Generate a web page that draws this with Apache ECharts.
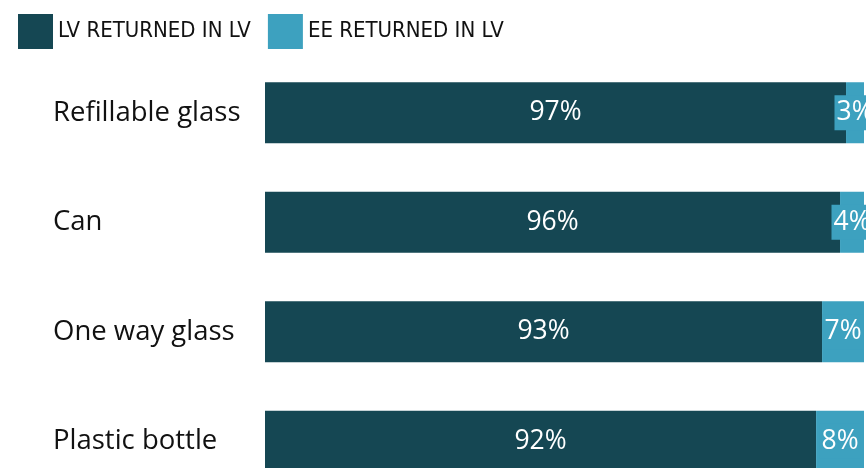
<!DOCTYPE html>
<html><head><meta charset="utf-8">
<script src="https://cdn.jsdelivr.net/npm/echarts@6/dist/echarts.min.js"></script>
<style>html,body{margin:0;padding:0;background:#fff}#c{width:866px;height:468px}</style>
</head><body><div id="c"></div>
<script>
const categories = ["Refillable glass", "Can", "One way glass", "Plastic bottle"];
const lvReturned = [97, 96, 93, 92];
const eeReturned = [3, 4, 7, 8];
const seriesNames = ["LV RETURNED IN LV", "EE RETURNED IN LV"];
const FONT = "'Open Sans', Lato, sans-serif";
const LEGEND_FONT = "'Liberation Sans Narrow', 'DejaVu Sans Condensed', Lato, sans-serif";
const chart = echarts.init(document.getElementById('c'));
chart.setOption({
  animation: false,
  textStyle: {fontFamily: FONT},
  legend: {
    left: 13, top: 9, itemWidth: 35, itemHeight: 35, itemGap: 17,
    icon: 'rect',
    textStyle: {fontSize: 22, color: '#111', fontFamily: LEGEND_FONT, padding: [2, 0, 0, 0]},
    data: seriesNames
  },
  grid: {left: 265, right: 2, top: 58, height: 438, containLabel: false, outerBoundsMode: 'none'},
  xAxis: {type: 'value', min: 0, max: 100, show: false},
  yAxis: {
    type: 'category', data: categories, inverse: true,
    axisLine: {show: false}, axisTick: {show: false},
    axisLabel: {align: 'left', margin: 212, fontSize: 27.5, color: '#111', fontFamily: FONT}
  },
  series: [
    {name: seriesNames[0], type: 'bar', stack: 'a', data: lvReturned, barWidth: 61,
     itemStyle: {color: '#154753'},
     label: {show: true, position: 'inside', color: '#fff', fontSize: 26.5, fontFamily: FONT, formatter: '{c}%'}},
    {name: seriesNames[1], type: 'bar', stack: 'a', data: eeReturned, barWidth: 61,
     itemStyle: {color: '#3DA1BF'},
     label: {show: true, position: 'inside', color: '#fff', fontSize: 26.5, fontFamily: FONT, formatter: '{c}%',
       backgroundColor: '#3DA1BF', padding: [4, 2]}}
  ]
});
</script></body></html>
